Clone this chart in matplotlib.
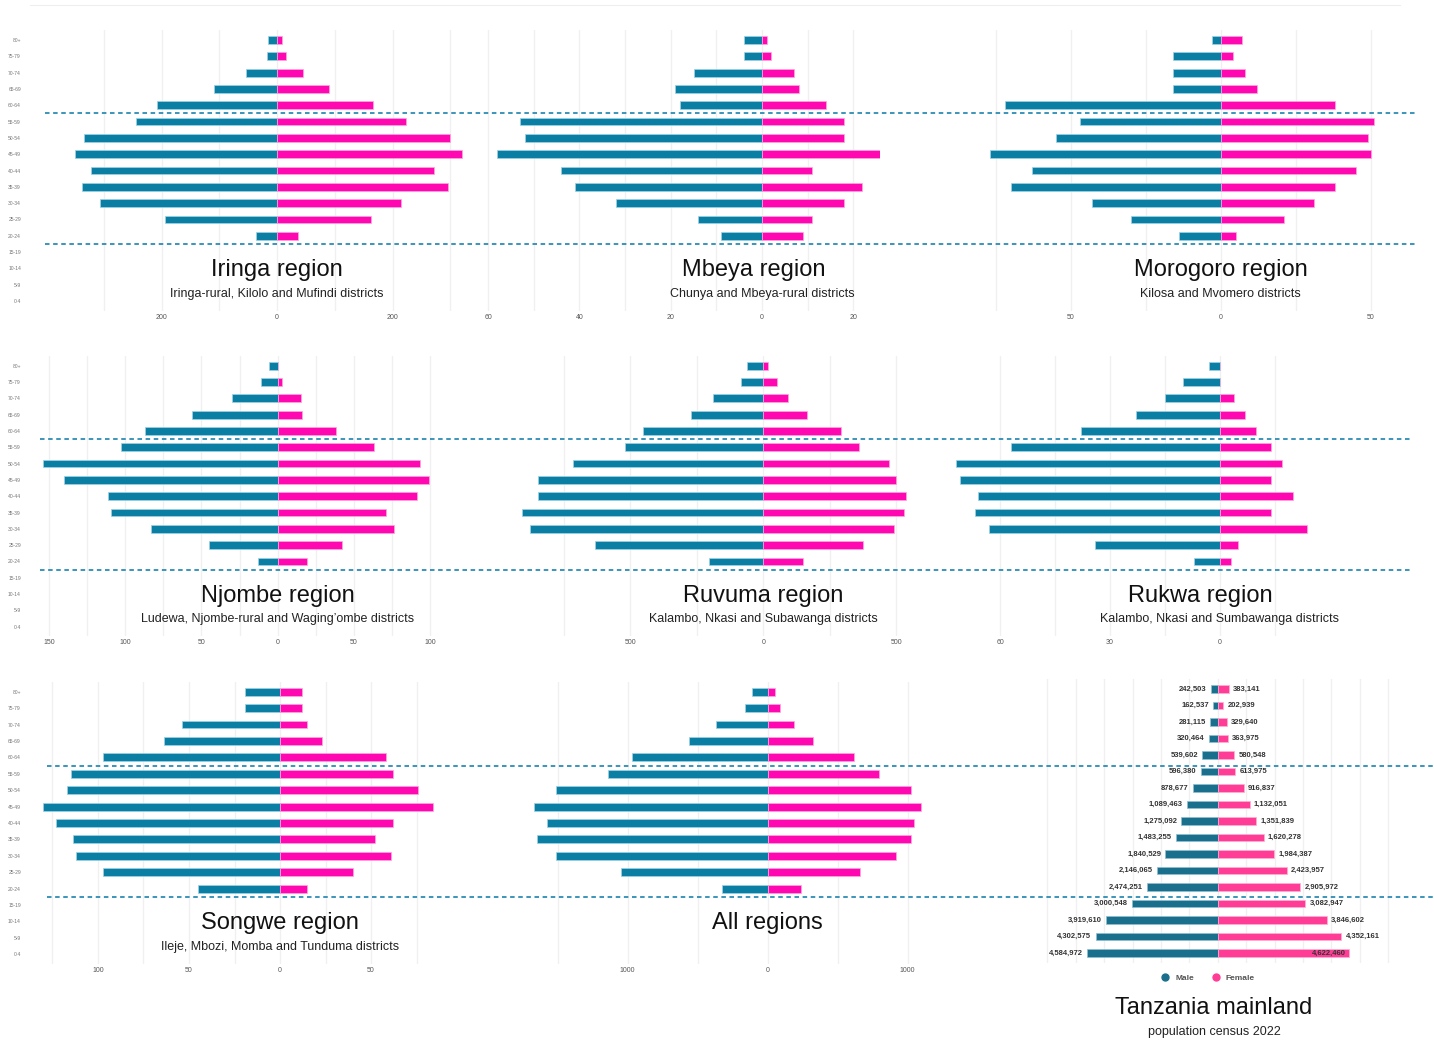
import matplotlib.pyplot as plt
from matplotlib.lines import Line2D
from matplotlib.ticker import MultipleLocator, FuncFormatter
from matplotlib.transforms import blended_transform_factory

plt.rcParams['font.family'] = ['Liberation Sans', 'DejaVu Sans']

W, H = 1434, 1041

ages = ["80+", "75-79", "70-74", "65-69", "60-64", "55-59", "50-54", "45-49",
        "40-44", "35-39", "30-34", "25-29", "20-24", "15-19", "10-14", "5-9", "0-4"]

# sample counts per age group, 80+ down to 20-24
iringa_m = [15, 17, 54, 109, 208, 245, 335, 349, 322, 337, 307, 194, 37]
iringa_f = [9, 16, 45, 90, 166, 224, 300, 321, 272, 296, 214, 162, 37]
mbeya_m = [4, 4, 15, 19, 18, 53, 52, 58, 44, 41, 32, 14, 9]
mbeya_f = [1, 2, 7, 8, 14, 18, 18, 27, 11, 22, 18, 11, 9]
morogoro_m = [3, 16, 16, 16, 72, 47, 55, 77, 63, 70, 43, 30, 14]
morogoro_f = [7, 4, 8, 12, 38, 51, 49, 50, 45, 38, 31, 21, 5]
njombe_m = [6, 11, 30, 56, 87, 103, 154, 140, 111, 109, 83, 45, 13]
njombe_f = [0, 3, 15, 16, 38, 63, 93, 99, 91, 71, 76, 42, 19]
ruvuma_m = [61, 84, 188, 273, 451, 520, 717, 846, 848, 908, 876, 632, 206]
ruvuma_f = [19, 50, 91, 165, 293, 360, 471, 499, 538, 529, 492, 375, 149]
rukwa_m = [3, 10, 15, 23, 38, 57, 72, 71, 66, 67, 63, 34, 7]
rukwa_f = [0, 0, 4, 7, 10, 14, 17, 14, 20, 14, 24, 5, 3]
songwe_m = [19, 19, 54, 64, 97, 115, 117, 130, 123, 114, 112, 97, 45]
songwe_f = [12, 12, 15, 23, 58, 62, 76, 84, 62, 52, 61, 40, 15]
all_m = [110, 160, 371, 560, 971, 1138, 1510, 1671, 1576, 1645, 1514, 1045, 329]
all_f = [50, 90, 188, 324, 619, 795, 1026, 1095, 1043, 1024, 919, 660, 238]

# Tanzania mainland census 2022, 80+ down to 0-4
tz_male = [242503, 162537, 281115, 320464, 539602, 596380, 878677, 1089463, 1275092,
           1483255, 1840529, 2146065, 2474251, 3000548, 3919610, 4302575, 4584972]
tz_female = [383141, 202939, 329640, 363975, 580548, 613975, 916837, 1132051, 1351839,
             1620278, 1984387, 2423957, 2905972, 3082947, 3846602, 4352161, 4622460]

regions = [
    ("Iringa region", "Iringa-rural, Kilolo and Mufindi districts", iringa_m, iringa_f),
    ("Mbeya region", "Chunya and Mbeya-rural districts", mbeya_m, mbeya_f),
    ("Morogoro region", "Kilosa and Mvomero districts", morogoro_m, morogoro_f),
    ("Njombe region", "Ludewa, Njombe-rural and Waging\u2019ombe districts", njombe_m, njombe_f),
    ("Ruvuma region", "Kalambo, Nkasi and Subawanga districts", ruvuma_m, ruvuma_f),
    ("Rukwa region", "Kalambo, Nkasi and Sumbawanga districts", rukwa_m, rukwa_f),
    ("Songwe region", "Ileje, Mbozi, Momba and Tunduma districts", songwe_m, songwe_f),
    ("All regions", "", all_m, all_f),
]

# panel layout in pixels: left, right, zero position, px per unit, first row y,
# last row y, major step, minor step, age labels, title x offset (units)
layout = [
    (50, 480, 277.0, 0.5775, 40.0, 301.0, 200, 100, True, 0),
    (484, 880, 762.0, 4.565, 40.0, 301.0, 20, 10, False, -1.75),
    (985, 1410, 1220.7, 3.0, 40.0, 301.0, 50, 25, False, 0),
    (38, 455, 277.7, 1.526, 365.7, 626.7, 50, 25, True, 0),
    (515, 940, 763.3, 0.266, 365.7, 626.7, 500, 250, False, 0),
    (949, 1311, 1219.7, 3.657, 365.7, 626.7, 30, 15, False, -5.4),
    (40, 440, 280.0, 1.82, 691.7, 954.3, 50, 25, True, 0),
    (520, 935, 767.7, 0.14, 691.7, 954.3, 1000, 500, False, 0),
]

MALE, FEMALE = "#0b7fa3", "#ff08b2"
TZ_MALE, TZ_FEMALE = "#1a6f8d", "#ff3d96"
DASH = "#2b8cb4"
GRID = "#f0f0f0"

fig = plt.figure(figsize=(W / 100, H / 100), dpi=100)


def add_panel(x0, x1, zero, scale, y_first, y_last):
    step = (y_last - y_first) / 16
    top = y_first - 0.6 * step
    bot = y_last + 0.6 * step
    ax = fig.add_axes([x0 / W, 1 - bot / H, (x1 - x0) / W, (bot - top) / H])
    ax.set_xlim(-(zero - x0) / scale, (x1 - zero) / scale)
    ax.set_ylim(16.6, -0.6)
    ax.patch.set_visible(False)
    for s in ax.spines.values():
        s.set_visible(False)
    return ax


row_axes = []
for (name, sub, male, female), lay in zip(regions, layout):
    x0, x1, zero, scale, y_first, y_last, major, minor, show_ages, tdx = lay
    ax = add_panel(x0, x1, zero, scale, y_first, y_last)
    ypos = range(len(male))
    ax.barh(ypos, [-v for v in male], height=0.48, color=MALE,
            edgecolor="#9fd3e6", linewidth=0.5, zorder=3)
    ax.barh(ypos, female, height=0.48, color=FEMALE,
            edgecolor="#ffa6de", linewidth=0.5, zorder=3)

    ax.xaxis.set_major_locator(MultipleLocator(major))
    ax.xaxis.set_minor_locator(MultipleLocator(minor))
    ax.xaxis.set_major_formatter(FuncFormatter(lambda v, p: f"{abs(v):g}"))
    ax.grid(axis="x", which="both", color=GRID, linewidth=1, zorder=0)
    ax.tick_params(axis="x", which="both", length=0, labelsize=5,
                   labelcolor="#555555", pad=2)
    if show_ages:
        ax.set_yticks(range(len(ages)), ages)
        ax.tick_params(axis="y", length=0, labelsize=3.6, labelcolor="#777777",
                       pad=(x0 - 21) * 0.72)
    else:
        ax.set_yticks([])

    ax.text(tdx, 14.1, name, ha="center", va="center", fontsize=17, color="#111111")
    if sub:
        ax.text(0, 15.55, sub, ha="center", va="center", fontsize=9, color="#222222")
    if show_ages:
        row_axes.append(ax)

# Tanzania mainland panel
tz = add_panel(1044, 1393, 1217.7, 28.4e-6, 689.0, 953.0)
yy = range(len(tz_male))
tz.barh(yy, [-v for v in tz_male], height=0.46, color=TZ_MALE,
        edgecolor="#8cc0d3", linewidth=0.5, zorder=3)
tz.barh(yy, tz_female, height=0.46, color=TZ_FEMALE,
        edgecolor="#ffb0d2", linewidth=0.5, zorder=3)
tz.xaxis.set_major_locator(MultipleLocator(1e6))
tz.grid(axis="x", color=GRID, linewidth=1, zorder=0)
tz.set_xticklabels([])
tz.tick_params(length=0)
tz.set_yticks([])
lab = dict(fontsize=5.5, fontweight="bold", color="#333333", va="center")
for i, (m, f) in enumerate(zip(tz_male, tz_female)):
    tz.annotate(f"{m:,}", (-m, i), xytext=(-3, 0), textcoords="offset points",
                ha="right", zorder=4, **lab)
    if f > 4.5e6:
        tz.annotate(f"{f:,}", (f, i), xytext=(-2, 0), textcoords="offset points",
                    ha="right", zorder=4, **lab)
    else:
        tz.annotate(f"{f:,}", (f, i), xytext=(3, 0), textcoords="offset points",
                    ha="left", zorder=4, **lab)

handles = [Line2D([], [], marker="o", linestyle="none", markersize=5, color=TZ_MALE),
           Line2D([], [], marker="o", linestyle="none", markersize=5, color=TZ_FEMALE)]
leg = tz.legend(handles, ["Male", "Female"], loc="center", ncol=2, frameon=False,
                bbox_to_anchor=(1206 / W, 1 - 978 / H), bbox_transform=fig.transFigure,
                fontsize=6, handletextpad=0.2, columnspacing=1.6)
for t in leg.get_texts():
    t.set_color("#555555")
    t.set_fontweight("bold")

fig.text(1214 / W, 1 - 1008 / H, "Tanzania mainland", ha="center", va="center",
         fontsize=17, color="#111111")
fig.text(1214 / W, 1 - 1032 / H, "population census 2022", ha="center", va="center",
         fontsize=9, color="#222222")

# dashed markers for the 20-59 band, one pair per row of panels
spans = [(45, 1415), (40, 1410), (47, 1434)]
for ax, (sx0, sx1) in zip(row_axes, spans):
    tr = blended_transform_factory(fig.transFigure, ax.transData)
    for yv in (4.5, 12.5):
        fig.add_artist(Line2D([sx0 / W, sx1 / W], [yv, yv], transform=tr,
                              color=DASH, linewidth=1.3, linestyle=(0, (2.5, 2)),
                              zorder=5))

fig.add_artist(Line2D([30 / W, 1400 / W], [1 - 5 / H, 1 - 5 / H],
                      color="#eeeeee", linewidth=0.8))

fig.savefig("out.png", dpi=100, facecolor="white")
